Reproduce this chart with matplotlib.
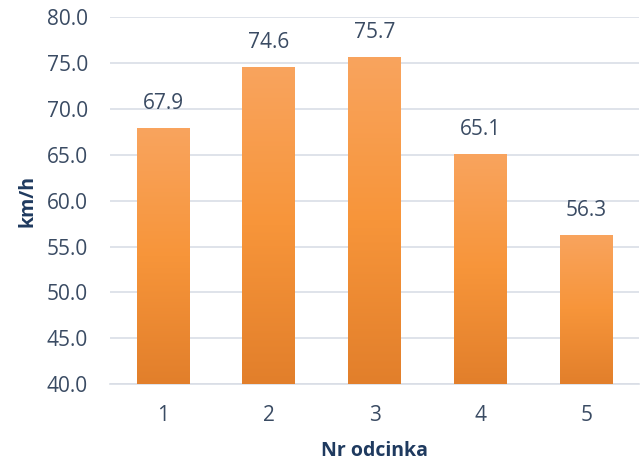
import matplotlib.pyplot as plt
import numpy as np
from matplotlib.colors import LinearSegmentedColormap

segments = ['1', '2', '3', '4', '5']
speeds = [67.9, 74.6, 75.7, 65.1, 56.3]
y_ticks = [40, 45, 50, 55, 60, 65, 70, 75, 80]

text_color = '#3a4b63'
label_color = '#1f3a5f'
plt.rcParams['font.family'] = ['Open Sans', 'DejaVu Sans']

fig = plt.figure(figsize=(6.41, 4.65), dpi=100)
ax = fig.add_axes([0.172, 0.174, 0.825, 0.789])

x = np.arange(len(segments))
bars = ax.bar(x, speeds, width=0.5, color='none', zorder=3)

grad = LinearSegmentedColormap.from_list('o', ['#e27f2b', '#f7953a', '#f9a45e'])
g = np.linspace(0, 1, 256).reshape(-1, 1)
for b in bars:
    x0 = b.get_x()
    im = ax.imshow(g, cmap=grad, origin='lower', aspect='auto', zorder=3,
                   extent=[x0, x0 + b.get_width(), 40, b.get_height()])
    im.set_clip_path(b)

for xi, v in zip(x, speeds):
    ax.annotate(f'{v:.1f}', (xi, v), xytext=(0, 13.5), textcoords='offset points',
                ha='center', va='baseline', fontsize=15, color=text_color)

ax.set_xlim(-0.5, len(segments) - 0.5)
ax.set_ylim(40, 80)
ax.set_yticks(y_ticks)
ax.set_yticklabels([f'{t:.1f}' for t in y_ticks])
ax.set_xticks(x)
ax.set_xticklabels(segments)
ax.tick_params(length=0, labelsize=15, labelcolor=text_color)
ax.tick_params(axis='x', pad=15)
ax.tick_params(axis='y', pad=16)
ax.grid(axis='y', color='#d9dee6', linewidth=1.2, zorder=0)
ax.set_axisbelow(True)
for s in ['left', 'right', 'top']:
    ax.spines[s].set_visible(False)
ax.spines['bottom'].set_color('#d9dee6')
ax.spines['bottom'].set_linewidth(1.2)

ax.set_ylabel('km/h', fontsize=14, fontweight='bold', color=label_color, labelpad=7)
ax.set_xlabel('Nr odcinka', fontsize=14, fontweight='bold', color=label_color, labelpad=11)

fig.savefig('out.png', dpi=100)
